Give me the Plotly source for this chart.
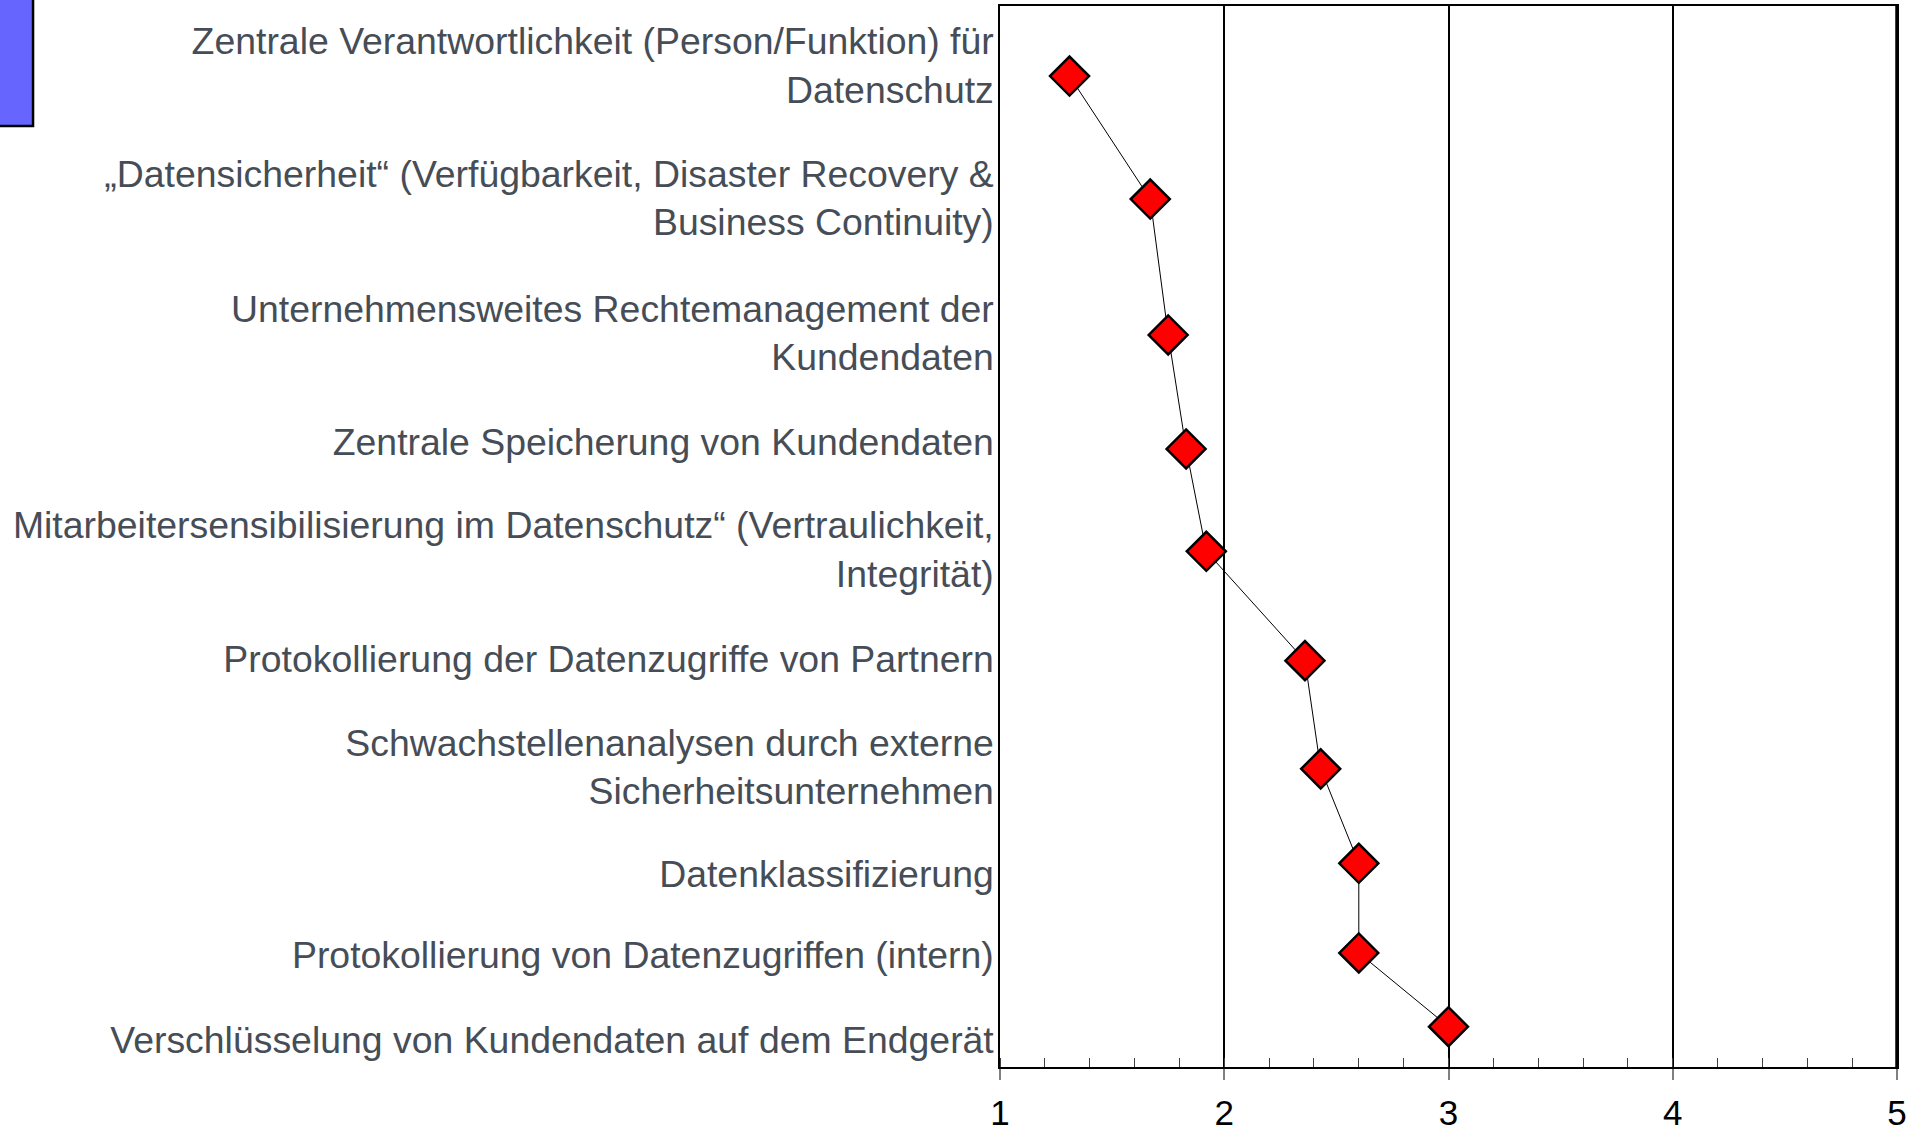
import plotly.graph_objects as go

# ---- data ----
categories = [
    "Zentrale Verantwortlichkeit (Person/Funktion) für<br>Datenschutz",
    "„Datensicherheit“ (Verfügbarkeit, Disaster Recovery &<br>Business Continuity)",
    "Unternehmensweites Rechtemanagement der<br>Kundendaten",
    "Zentrale Speicherung von Kundendaten",
    "Mitarbeitersensibilisierung im Datenschutz“ (Vertraulichkeit,<br>Integrität)",
    "Protokollierung der Datenzugriffe von Partnern",
    "Schwachstellenanalysen durch externe<br>Sicherheitsunternehmen",
    "Datenklassifizierung",
    "Protokollierung von Datenzugriffen (intern)",
    "Verschlüsselung von Kundendaten auf dem Endgerät",
]
values = [1.31, 1.67, 1.75, 1.83, 1.92, 2.36, 2.43, 2.60, 2.60, 3.00]
# vertical row positions (0 = top of plot, 100 = bottom)
marker_rows = [6.6, 18.2, 31.0, 41.75, 51.4, 61.7, 71.9, 80.8, 89.25, 96.2]
label_rows = [5.6, 18.1, 30.8, 41.05, 51.2, 61.5, 71.7, 81.8, 89.45, 97.45]
x_ticks = [1, 2, 3, 4, 5]

FONT = "Liberation Sans, Arial, Helvetica, sans-serif"

fig = go.Figure()
fig.add_trace(go.Scatter(
    x=values, y=marker_rows, mode="lines+markers",
    line=dict(color="black", width=1),
    marker=dict(symbol="diamond", size=30, color="#FF0000",
                line=dict(color="black", width=2.5)),
    showlegend=False, hoverinfo="x",
))

fig.update_layout(
    template="none",
    width=1923, height=1135,
    margin=dict(l=1000, r=26, t=6, b=68, pad=0),
    paper_bgcolor="white", plot_bgcolor="white",
    font=dict(family=FONT),
    xaxis=dict(
        range=[1, 5], tickmode="array", tickvals=x_ticks,
        ticktext=[str(t) for t in x_ticks],
        showgrid=True, gridcolor="black", gridwidth=2,
        showline=True, linecolor="black", linewidth=1.5, mirror=True,
        ticks="outside", ticklen=11, tickwidth=1.5, tickcolor="#808080",
        tickfont=dict(size=35, color="black", family=FONT),
        ticklabelstandoff=3,
        minor=dict(dtick=0.2, ticks="inside", ticklen=9, tickwidth=1.2,
                   tickcolor="#404040", showgrid=False),
        zeroline=False, fixedrange=True, automargin=False,
    ),
    yaxis=dict(
        range=[100, 0], tickmode="array", tickvals=label_rows,
        ticktext=categories,
        showgrid=False, zeroline=False,
        showline=True, linecolor="black", linewidth=1.5, mirror=True,
        ticks="", ticklabelstandoff=-3,
        tickfont=dict(size=37.4, color="#464d56", family=FONT),
        fixedrange=True, automargin=False,
    ),
    shapes=[
        dict(type="rect", xref="paper", yref="paper",
             x0=-1.2, x1=-1.078, y0=0.887, y1=1.05,
             fillcolor="#6666FF", line=dict(color="black", width=2.5),
             layer="above"),
        dict(type="line", xref="paper", yref="paper",
             x0=1, x1=1, y0=0, y1=1,
             line=dict(color="black", width=3.5), layer="above"),
    ],
)

fig.write_html("out.html", config={"displayModeBar": False},
               post_script="document.body.style.margin='0';")
